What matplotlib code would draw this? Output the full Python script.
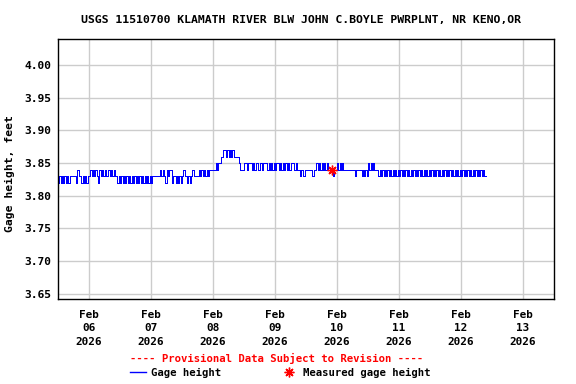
import matplotlib
matplotlib.use('Agg')
import matplotlib.pyplot as plt
from matplotlib.lines import Line2D
import pandas as pd

plt.rcParams['font.family'] = ['DejaVu Sans Mono']
plt.rcParams['font.weight'] = 'bold'

title = 'USGS 11510700 KLAMATH RIVER BLW JOHN C.BOYLE PWRPLNT, NR KENO,OR'

# 30-minute gage readings, digit d means 3.8d feet
start = '2026-02-05 12:00'
feb05 = '2323232323' '3333' '2' '4' '33' '232323'
feb06 = '3' '434343' '2' '43434' '33' '43434' '33' '23232323232323232323232323'
feb07 = ('23' '33333' '4' '3' '4' '3' '2' '4344' '2' '33' '232323' '4' '33'
         '232' '3' '4' '3333' '434343434' '44')
feb08 = ('44' '5455' '66' '77676767' '6666'
         '5' '444' '55' '4' '555' '4' '5' '4' '55' '4' '55' '4' '555' '4' '5' '4' '5' '4' '5')
feb09 = ('4' '5' '5' '4545454545' '5' '5' '454'
         '4' '3' '44' '3' '444444' '3' '44' '54545' '45454' '444' '3' '44')
feb10 = ('545454' '44444444' '3' '4444' '34343' '545454' '44'
         '3434343434343434')
feb11 = ('34343434' '34343434' '34343434' '34343434' '34343434' '34343434')
feb12 = '34343434343434343433'

levels = [3.80 + int(c) / 100 for c in feb05 + feb06 + feb07 + feb08 + feb09 + feb10 + feb11 + feb12]
times = pd.date_range(start, periods=len(levels), freq='30min')

meas_time = [pd.Timestamp('2026-02-09 22:00')]
meas_value = [3.84]

yticks = [3.65, 3.70, 3.75, 3.80, 3.85, 3.90, 3.95, 4.00]
day_ticks = pd.date_range('2026-02-06', '2026-02-13', freq='D')

fig = plt.figure(figsize=(5.76, 3.84), dpi=100)
ax = fig.add_axes([58 / 576, 1 - 299 / 384, 496 / 576, 260 / 384])

ax.plot(times, levels, color='#0000ff', lw=0.72, drawstyle='steps-post', antialiased=False)
ax.plot(meas_time, meas_value, linestyle='none', marker=(8, 2, 0),
        markersize=7, markeredgewidth=1.0, color='#ff0000')

ax.set_xlim(pd.Timestamp('2026-02-05 12:00'), pd.Timestamp('2026-02-13 12:00'))
ax.set_ylim(3.642, 4.04)
ax.set_yticks(yticks)
ax.set_yticklabels(['%.2f' % v for v in yticks], fontsize=8.1, fontweight='bold')
ax.set_xticks(day_ticks)
ax.set_xticklabels([d.strftime('%b\n%d\n%Y') for d in day_ticks],
                   fontsize=7.9, fontweight='bold', linespacing=1.4)
ax.tick_params(length=0)
ax.tick_params(axis='x', pad=8)
ax.tick_params(axis='y', pad=5)
ax.grid(color='#cccccc', lw=1)
ax.set_axisbelow(True)
for s in ax.spines.values():
    s.set_linewidth(1)
    s.set_color('black')

ax.set_ylabel('Gage height, feet', fontsize=8.2, fontweight='bold')
ax.yaxis.set_label_coords((15 - 58) / 496, (299 - 174) / 260)

fig.text(301 / 576, 1 - 20 / 384, title, ha='center', va='center',
         fontsize=8.25, fontweight='bold')
fig.text(277 / 576, 1 - 358 / 384, '---- Provisional Data Subject to Revision ----',
         ha='center', va='center', fontsize=7.7, fontweight='bold', color='#ff0000')

handles = [Line2D([], [], color='#0000ff', lw=1),
           Line2D([], [], linestyle='none', marker=(8, 2, 0), markersize=7,
                  markeredgewidth=1.0, color='#ff0000')]
fig.legend(handles, ['Gage height', 'Measured gage height'], loc='center',
           bbox_to_anchor=(280 / 576, 1 - 373 / 384), ncol=2, frameon=False,
           prop={'size': 7.7, 'weight': 'bold'}, handlelength=1.5,
           handletextpad=0.5, columnspacing=5.6, borderpad=0)

fig.savefig('out.png', dpi=100)
